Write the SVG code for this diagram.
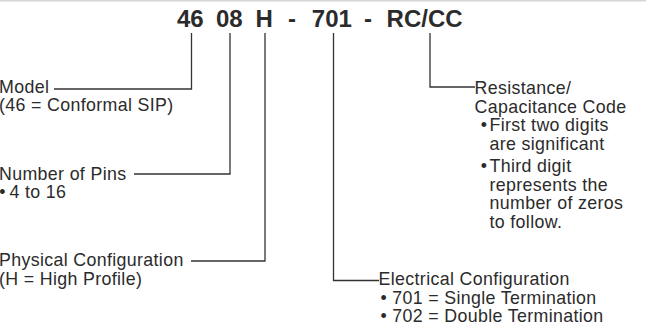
<svg xmlns="http://www.w3.org/2000/svg" width="646" height="332" viewBox="0 0 646 332">
<style>
  .bg { fill: #ffffff; }
  .rule { stroke: #d6d6d6; stroke-width: 1.6; fill: none; }
  .lbl { font-family: "Liberation Sans", Arial, Helvetica, sans-serif; font-size: 17.8px; letter-spacing: 0.35px; fill: #2b2b2b; }
  .hdr { font-family: "Liberation Sans", Arial, Helvetica, sans-serif; font-size: 24px; font-weight: bold; fill: #2b2b2b; }
  .conn { stroke: #333333; stroke-width: 1.3; fill: none; }
</style>
<rect class="bg" x="0" y="0" width="646" height="332"/>
<line class="rule" x1="0" y1="0.8" x2="646" y2="0.8"/>

<g id="part-number">
  <text class="hdr" y="26.5"><tspan x="177">46</tspan><tspan x="216">08</tspan><tspan x="255.5">H</tspan><tspan x="288">-</tspan><tspan x="311.8">701</tspan><tspan x="364">-</tspan><tspan x="386.6">RC/CC</tspan></text>
</g>

<g id="connectors">
  <polyline class="conn" points="191.5,33 191.5,89 54,89"/>
  <polyline class="conn" points="230,33 230,174 134,174"/>
  <polyline class="conn" points="265,33 265,261 191,261"/>
  <polyline class="conn" points="333.5,33 333.5,280.5 379,280.5"/>
  <polyline class="conn" points="430,33 430,87 475,87"/>
</g>

<g id="node-model">
  <text class="lbl"><tspan x="-1" y="92.5">Model</tspan><tspan x="-1" y="111">(46 = Conformal SIP)</tspan></text>
</g>

<g id="node-pins">
  <text class="lbl"><tspan x="-1" y="179.5">Number of Pins</tspan><tspan x="-0.8" y="198">•</tspan><tspan x="9.5" y="198">4 to 16</tspan></text>
</g>

<g id="node-physical">
  <text class="lbl"><tspan x="-1" y="266">Physical Configuration</tspan><tspan x="-1" y="284.5">(H = High Profile)</tspan></text>
</g>

<g id="node-electrical">
  <text class="lbl"><tspan x="378.6" y="285">Electrical Configuration</tspan><tspan x="380.5" y="303.5">•</tspan><tspan x="392.3" y="303.5">701 = Single Termination</tspan><tspan x="380.5" y="322">•</tspan><tspan x="392.3" y="322">702 = Double Termination</tspan></text>
</g>

<g id="node-rc">
  <text class="lbl"><tspan x="474.6" y="94">Resistance/</tspan><tspan x="474.6" y="112.5">Capacitance Code</tspan><tspan x="480.8" y="131">•</tspan><tspan x="489.5" y="131">First two digits</tspan><tspan x="489.5" y="149.5">are significant</tspan><tspan x="480.8" y="172">•</tspan><tspan x="489.5" y="172">Third digit</tspan><tspan x="489.5" y="190.5">represents the</tspan><tspan x="489.5" y="209">number of zeros</tspan><tspan x="489.5" y="227.5">to follow.</tspan></text>
</g>
</svg>
